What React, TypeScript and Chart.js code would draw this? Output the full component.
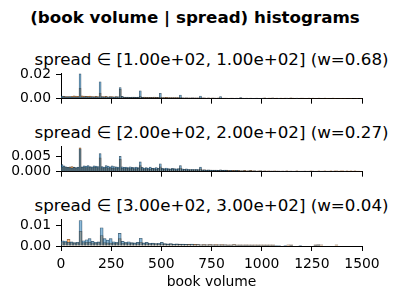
import React, { useEffect, useRef } from "react";
import { Chart, registerables } from "chart.js";

Chart.register(...registerables);

const FONT = "DejaVu Sans";
const SUPTITLE = "(book volume | spread) histograms";
const X_LABEL = "book volume";
const X_TICKS = [0, 250, 500, 750, 1000, 1250, 1500];

const TITLE_1 = "spread \u2208 [1.00e+02, 1.00e+02] (w=0.68)";
const TITLE_2 = "spread \u2208 [2.00e+02, 2.00e+02] (w=0.27)";
const TITLE_3 = "spread \u2208 [3.00e+02, 3.00e+02] (w=0.04)";

const BIN_W_1 = 10;
const BIN_W_2 = 10;
const BIN_W_3 = 15;

const blue1 = [
  .0022, .0018, .0016, .0015, .0017, .0014, .0016, .0015, .0014, .0205,
  .0016, .0015, .0017, .0014, .0015, .0016, .0014, .0015, .0014, .0140,
  .0015, .0014, .0016, .0014, .0015, .0014, .0014, .0015, .0016, .0092,
  .0020, .0012, .0011, .0012, .0011, .0012, .0010, .0011, .0010, .0065,
  .0010, .0009, .0009, .0008, .0009, .0008, .0009, .0008, .0008, .0045,
  .0007, .0007, .0006, .0007, .0006, .0006, .0007, .0006, .0006, .0030,
  .0006, .0005, .0006, .0005, .0005, .0006, .0005, .0005, .0005, .0022,
  .0005, .0005, .0004, .0005, .0004, .0004, .0005, .0004, .0004, .0018,
  .0004, .0004, .0003, .0004, .0003, .0004, .0003, .0003, .0003, .0008,
  .0003, .0003, .0002, .0003, .0002, .0002, .0003, .0002, .0002, .0002,
  .0001, 0, .0001, 0, 0, .0001, 0, 0, .0001, 0,
  0, 0, .0001, 0, 0, 0, 0, .0001, 0, 0,
  0, 0, 0, 0, 0, 0, 0, 0, 0, 0,
  0, 0, 0, 0, 0, 0, 0, 0, 0, 0,
  0, 0, 0, 0, 0, 0, 0, 0, 0, 0,
];
const orange1 = [
  .0016, .0019, .0017, .0018, .0016, .0020, .0023, .0022, .0019, .0085,
  .0023, .0022, .0020, .0019, .0021, .0018, .0017, .0019, .0018, .0046,
  .0018, .0017, .0019, .0016, .0017, .0018, .0016, .0017, .0016, .0077,
  .0018, .0013, .0014, .0013, .0012, .0014, .0013, .0012, .0013, .0020,
  .0012, .0013, .0011, .0012, .0011, .0012, .0014, .0011, .0012, .0013,
  .0009, .0009, .0010, .0008, .0009, .0008, .0009, .0008, .0008, .0009,
  .0007, .0006, .0007, .0006, .0007, .0006, .0006, .0007, .0006, .0006,
  .0006, .0006, .0005, .0006, .0005, .0006, .0005, .0005, .0006, .0005,
  .0005, .0005, .0005, .0004, .0005, .0005, .0004, .0005, .0004, .0005,
  .0005, .0004, .0005, .0004, .0005, .0004, .0004, .0005, .0004, .0004,
  .0005, .0006, .0004, .0005, .0005, .0006, .0004, .0005, .0004, .0005,
  .0004, .0005, .0005, .0004, .0006, .0005, .0004, .0005, .0004, .0005,
  .0005, .0004, .0004, .0005, .0004, .0005, .0004, .0004, .0005, .0004,
  .0004, .0005, .0003, .0004, .0004, .0005, .0003, .0004, .0004, .0003,
  .0004, .0003, .0004, .0004, .0003, 0, .0004, .0003, 0, .0003,
];

const blue2 = [
  .0023, .0019, .0016, .0014, .0013, .0012, .0014, .0013, .0015, .0075,
  .0016, .0019, .0018, .0020, .0017, .0016, .0019, .0018, .0017, .0059,
  .0017, .0015, .0020, .0018, .0016, .0019, .0017, .0016, .0015, .0050,
  .0016, .0014, .0015, .0013, .0016, .0014, .0013, .0015, .0013, .0032,
  .0014, .0012, .0013, .0012, .0015, .0011, .0012, .0013, .0011, .0026,
  .0011, .0010, .0012, .0010, .0009, .0011, .0010, .0009, .0010, .0020,
  .0009, .0008, .0009, .0008, .0007, .0008, .0007, .0008, .0007, .0015,
  .0006, .0006, .0005, .0006, .0005, .0005, .0004, .0005, .0004, .0006,
  .0004, .0005, .0004, .0003, .0004, .0003, .0003, .0004, .0003, .0003,
  .0003, .0003, .0002, .0003, .0003, .0002, .0003, .0002, .0002, .0003,
  .0002, .0002, .0002, .0001, .0002, .0002, .0001, .0002, .0002, .0001,
  .0002, .0001, .0002, .0001, .0002, .0001, .0001, .0002, .0001, .0001,
  .0001, .0002, .0001, .0001, .0001, .0002, .0001, .0001, .0001, .0001,
  .0001, .0001, .0001, .0001, 0, .0001, 0, .0001, 0, 0,
  0, .0001, 0, 0, 0, 0, 0, 0, 0, 0,
];
const orange2 = [
  .0014, .0017, .0015, .0013, .0016, .0017, .0015, .0012, .0013, .0078,
  .0014, .0015, .0013, .0016, .0014, .0013, .0015, .0014, .0013, .0045,
  .0013, .0012, .0014, .0012, .0013, .0011, .0012, .0013, .0011, .0040,
  .0011, .0010, .0011, .0012, .0010, .0011, .0009, .0010, .0011, .0020,
  .0010, .0009, .0010, .0009, .0008, .0010, .0009, .0008, .0009, .0016,
  .0008, .0008, .0007, .0008, .0007, .0008, .0007, .0006, .0007, .0012,
  .0006, .0007, .0006, .0005, .0006, .0005, .0006, .0005, .0005, .0009,
  .0005, .0006, .0005, .0004, .0005, .0004, .0005, .0004, .0004, .0005,
  .0004, .0004, .0005, .0004, .0003, .0004, .0004, .0003, .0004, .0003,
  .0003, .0004, .0003, .0003, .0004, .0003, .0003, .0002, .0003, .0003,
  .0002, .0003, .0002, .0003, .0002, .0002, .0003, .0002, .0002, .0002,
  .0002, .0002, .0003, .0002, .0002, .0002, .0002, .0003, .0002, .0002,
  .0002, .0002, .0002, .0002, .0003, .0002, .0002, .0002, .0003, .0002,
  .0002, .0003, .0002, .0002, .0003, .0002, .0003, .0003, .0002, .0003,
  .0003, .0002, .0003, .0002, .0003, .0002, .0003, .0002, .0002, .0001,
];

const blue3 = [
  .0025, .0024, .0018, .0020, .0016, .0018, .0122, .0025, .0030, .0035,
  .0022, .0018, .0020, .0087, .0035, .0028, .0035, .0020, .0018, .0060,
  .0022, .0018, .0020, .0016, .0015, .0017, .0037, .0015, .0017, .0013,
  .0014, .0012, .0013, .0017, .0011, .0010, .0012, .0009, .0010, .0008,
  .0009, .0008, .0007, .0009, .0006, .0007, .0006, .0005, .0006, .0005,
  .0005, .0004, .0006, .0004, .0005, .0004, .0004, .0006, .0003, .0004,
  .0003, .0004, .0003, .0003, .0002, .0003, .0002, .0002, .0003, .0002,
  .0002, .0001, .0002, 0, .0001, 0, .0001, 0, 0, .0001,
  0, 0, 0, 0, .0004, .0005, 0, 0, 0, 0,
  0, 0, 0, 0, 0, 0, 0, 0, 0, 0,
];
const orange3 = [
  .0020, .0018, .0032, .0016, .0014, .0015, .0070, .0016, .0018, .0017,
  .0015, .0014, .0016, .0050, .0016, .0015, .0014, .0013, .0014, .0035,
  .0013, .0014, .0012, .0013, .0012, .0011, .0018, .0012, .0011, .0010,
  .0011, .0010, .0009, .0010, .0009, .0008, .0009, .0008, .0008, .0009,
  .0008, .0007, .0008, .0007, .0008, .0007, .0006, .0007, .0006, .0007,
  .0006, .0007, .0006, .0007, .0006, .0005, .0006, .0007, .0006, .0005,
  .0006, .0005, .0006, .0005, .0006, .0005, .0006, .0005, .0005, .0006,
  .0005, 0, 0, 0, 0, .0005, .0005, 0, 0, 0,
  0, 0, 0, 0, .0005, .0005, .0005, 0, 0, 0,
  0, .0005, 0, 0, 0, 0, 0, 0, 0, 0,
];

const yTicks1 = [0, 0.02];
const yTicks2 = [0, 0.005];
const yTicks3 = [0, 0.01];

const BLUE = "rgba(31,119,180,0.5)";
const ORANGE = "rgba(255,127,14,0.5)";
const EDGE = "rgba(0,0,0,0.6)";

const PAD_TOP = 15;

type Spec = {
  chartTop: number;
  chartBottom: number;
  canvasBottom: number;
  title: string;
  blue: number[];
  orange: number[];
  binW: number;
  yMax: number;
  yTicks: number[];
  yDec: number;
  showX: boolean;
};

const specs: Spec[] = [
  { chartTop: 73, chartBottom: 100, canvasBottom: 112, title: TITLE_1, blue: blue1, orange: orange1, binW: BIN_W_1, yMax: 0.0212, yTicks: yTicks1, yDec: 2, showX: false },
  { chartTop: 146, chartBottom: 173, canvasBottom: 185, title: TITLE_2, blue: blue2, orange: orange2, binW: BIN_W_2, yMax: 0.0084, yTicks: yTicks2, yDec: 3, showX: false },
  { chartTop: 219, chartBottom: 246, canvasBottom: 299, title: TITLE_3, blue: blue3, orange: orange3, binW: BIN_W_3, yMax: 0.0129, yTicks: yTicks3, yDec: 2, showX: true },
];

function Panel({ spec }: { spec: Spec }) {
  const ref = useRef<HTMLCanvasElement>(null);
  const canvasTop = spec.chartTop - PAD_TOP;
  const canvasH = spec.canvasBottom - canvasTop;
  const xAxisH = spec.canvasBottom - spec.chartBottom;
  useEffect(() => {
    if (!ref.current) return;
    const toPts = (arr: number[]) => arr.map((v, i) => ({ x: (i + 0.5) * spec.binW, y: v }));
    const chart = new Chart(ref.current, {
      type: "bar",
      data: {
        datasets: [
          { label: "a", data: toPts(spec.blue) as any, backgroundColor: BLUE, borderColor: EDGE, borderWidth: 0.25 },
          { label: "b", data: toPts(spec.orange) as any, backgroundColor: ORANGE, borderColor: EDGE, borderWidth: 0.25 },
        ],
      },
      options: {
        responsive: false,
        animation: false,
        events: [],
        layout: { padding: { left: 0, right: 39, top: PAD_TOP, bottom: 0 } },
        datasets: { bar: { grouped: false, barPercentage: 1, categoryPercentage: 1 } } as any,
        plugins: {
          legend: { display: false },
          tooltip: { enabled: false },
          title: { display: false },
        },
        scales: {
          x: {
            type: "linear",
            min: 0,
            max: 1500,
            offset: false,
            grid: { drawOnChartArea: false, drawTicks: true, tickLength: 5, tickColor: "#000", offset: false, lineWidth: 1 },
            border: { display: true, color: "#000", width: 1 },
            ticks: {
              display: spec.showX,
              color: "#000",
              padding: 5,
              maxRotation: 0,
              autoSkip: false,
              font: { family: FONT, size: 13.9 },
              callback: (v: any) => String(v),
            },
            afterBuildTicks: (s: any) => {
              s.ticks = X_TICKS.map((v) => ({ value: v }));
            },
            title: {
              display: spec.showX,
              text: X_LABEL,
              color: "#000",
              font: { family: FONT, size: 13.9 },
              padding: { top: 0, bottom: 8.7 },
            },
            afterFit: (s: any) => {
              s.height = xAxisH;
            },
          },
          y: {
            type: "linear",
            min: 0,
            max: spec.yMax,
            grid: { drawOnChartArea: false, drawTicks: true, tickLength: 5, tickColor: "#000", lineWidth: 1 },
            border: { display: true, color: "#000", width: 1 },
            ticks: {
              color: "#000",
              padding: 5,
              font: { family: FONT, size: 13.9 },
              callback: (v: any) => Number(v).toFixed(spec.yDec),
            },
            afterBuildTicks: (s: any) => {
              s.ticks = spec.yTicks.map((v) => ({ value: v }));
            },
            afterFit: (s: any) => {
              s.width = 61;
            },
          },
        },
      },
    });
    return () => chart.destroy();
  }, [spec]);
  return (
    <>
      <div
        style={{
          position: "absolute",
          left: 11.5,
          width: 400,
          top: spec.chartTop - 24,
          textAlign: "center",
          fontFamily: FONT,
          fontSize: "16.7px",
          lineHeight: "20px",
          color: "#000",
          whiteSpace: "nowrap",
        }}
      >
        {spec.title}
      </div>
      <canvas
        ref={ref}
        width={401}
        height={canvasH}
        style={{ position: "absolute", left: 0, top: canvasTop, display: "block" }}
      />
    </>
  );
}

export default function App() {
  return (
    <div
      style={{
        position: "fixed",
        left: 0,
        top: 0,
        width: 401,
        height: 299,
        background: "#fff",
        overflow: "hidden",
      }}
    >
      <div
        style={{
          position: "absolute",
          left: 0,
          top: 7,
          width: 390,
          textAlign: "center",
          fontFamily: FONT,
          fontWeight: "bold",
          fontSize: "16.7px",
          lineHeight: "20px",
          color: "#000",
          whiteSpace: "nowrap",
        }}
      >
        {SUPTITLE}
      </div>
      {specs.map((s, i) => (
        <Panel key={i} spec={s} />
      ))}
    </div>
  );
}
